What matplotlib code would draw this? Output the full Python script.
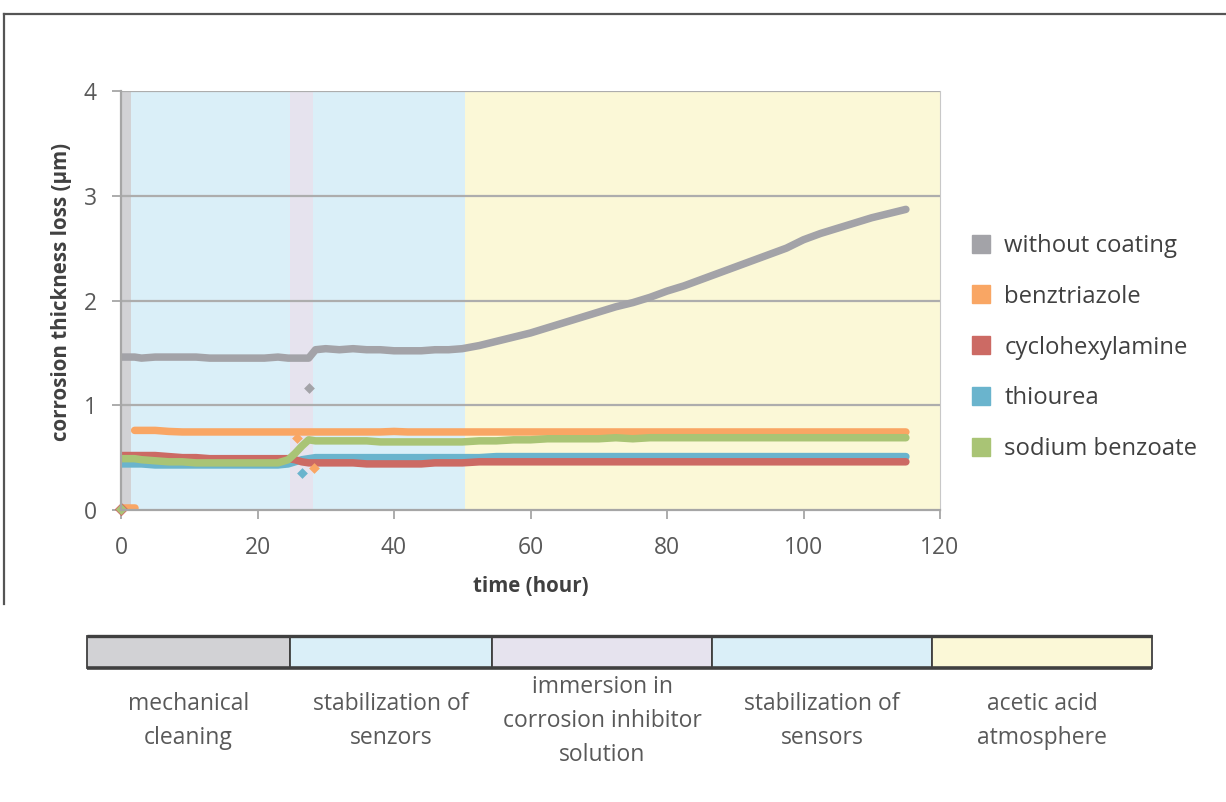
import matplotlib
matplotlib.use("Agg")
import matplotlib.pyplot as plt
from matplotlib.lines import Line2D
from matplotlib.patches import Rectangle
import numpy as np

plt.rcParams['font.family'] = ['Open Sans', 'DejaVu Sans']

# ---------------- data ----------------
time_h = [0, 2, 3, 5, 7, 9, 11, 13, 15, 17, 19, 21, 23, 24.5, 25.5, 26.5, 27.5,
          28.5, 30, 32, 34, 36, 38, 40, 42, 44, 46, 48, 50,
          52.5, 55, 57.5, 60, 62.5, 65, 67.5, 70, 72.5, 75, 77.5, 80, 82.5, 85,
          87.5, 90, 92.5, 95, 97.5, 100, 102.5, 105, 107.5, 110, 112.5, 115]

without_coating = [1.46, 1.46, 1.45, 1.46, 1.46, 1.46, 1.46, 1.45, 1.45, 1.45, 1.45, 1.45, 1.46, 1.45, 1.45, 1.45, 1.45,
                   1.53, 1.54, 1.53, 1.54, 1.53, 1.53, 1.52, 1.52, 1.52, 1.53, 1.53, 1.54,
                   1.57, 1.61, 1.65, 1.69, 1.74, 1.79, 1.84, 1.89, 1.94, 1.98, 2.03, 2.09, 2.14, 2.20,
                   2.26, 2.32, 2.38, 2.44, 2.50, 2.58, 2.64, 2.69, 2.74, 2.79, 2.83, 2.87]

benztriazole = [np.nan, 0.76, 0.76, 0.76, 0.75, 0.745, 0.745, 0.745, 0.745, 0.745, 0.745, 0.745, 0.745, 0.745, 0.745, 0.745, 0.745,
                0.745, 0.745, 0.745, 0.745, 0.745, 0.745, 0.75, 0.745, 0.745, 0.745, 0.745, 0.745,
                0.745, 0.745, 0.745, 0.745, 0.745, 0.745, 0.745, 0.745, 0.745, 0.745, 0.745, 0.745, 0.745, 0.745,
                0.745, 0.745, 0.745, 0.745, 0.745, 0.745, 0.745, 0.745, 0.745, 0.745, 0.745, 0.745]

cyclohexylamine = [0.52, 0.52, 0.52, 0.52, 0.51, 0.50, 0.50, 0.49, 0.49, 0.49, 0.49, 0.49, 0.49, 0.49, 0.48, 0.46, 0.45,
                   0.45, 0.45, 0.45, 0.45, 0.44, 0.44, 0.44, 0.44, 0.44, 0.45, 0.45, 0.45,
                   0.46, 0.46, 0.46, 0.46, 0.46, 0.46, 0.46, 0.46, 0.46, 0.46, 0.46, 0.46, 0.46, 0.46,
                   0.46, 0.46, 0.46, 0.46, 0.46, 0.46, 0.46, 0.46, 0.46, 0.46, 0.46, 0.46]

thiourea = [0.44, 0.44, 0.44, 0.43, 0.43, 0.43, 0.43, 0.43, 0.43, 0.43, 0.43, 0.43, 0.43, 0.44, 0.46, 0.48, 0.49,
            0.50, 0.50, 0.50, 0.50, 0.50, 0.50, 0.50, 0.50, 0.50, 0.50, 0.50, 0.50,
            0.50, 0.51, 0.51, 0.51, 0.51, 0.51, 0.51, 0.51, 0.51, 0.51, 0.51, 0.51, 0.51, 0.51,
            0.51, 0.51, 0.51, 0.51, 0.51, 0.51, 0.51, 0.51, 0.51, 0.51, 0.51, 0.51]

sodium_benzoate = [0.49, 0.49, 0.48, 0.47, 0.46, 0.46, 0.45, 0.45, 0.45, 0.45, 0.45, 0.45, 0.45, 0.48, 0.54, 0.61, 0.67,
                   0.66, 0.66, 0.66, 0.66, 0.66, 0.65, 0.65, 0.65, 0.65, 0.65, 0.65, 0.65,
                   0.66, 0.66, 0.67, 0.67, 0.68, 0.68, 0.68, 0.68, 0.69, 0.68, 0.69, 0.69, 0.69, 0.69,
                   0.69, 0.69, 0.69, 0.69, 0.69, 0.69, 0.69, 0.69, 0.69, 0.69, 0.69, 0.69]

# isolated points (start values and outliers)
benz_start_t = [0, 0.7, 1.4, 2.0]
benz_start_v = [0.02, 0.02, 0.02, 0.02]
benz_out_t = [25.8, 28.3]
benz_out_v = [0.69, 0.40]
sodium_start_t = [0]
sodium_start_v = [0.01]
thiourea_out_t = [26.5]
thiourea_out_v = [0.35]
without_out_t = [27.6]
without_out_v = [1.16]

series_names = ['without coating', 'benztriazole', 'cyclohexylamine', 'thiourea', 'sodium benzoate']
series_colors = ['#A3A3A8', '#F9A664', '#CC6A64', '#6AB4CD', '#A9C475']

phase_names = ['mechanical\ncleaning', 'stabilization of\nsenzors',
               'immersion in\ncorrosion inhibitor\nsolution', 'stabilization of\nsensors',
               'acetic acid\natmosphere']
phase_start = [0, 1.5, 24.8, 28.2, 50.4]
phase_end = [1.5, 24.8, 28.2, 50.4, 120]
phase_colors = ['#D2D2D5', '#DAEFF8', '#E6E3EE', '#DAEFF8', '#FBF8D7']

x_ticks = [0, 20, 40, 60, 80, 100, 120]
y_ticks = [0, 1, 2, 3, 4]

# ---------------- figure ----------------
W, H = 1226, 802
fig = plt.figure(figsize=(W / 100, H / 100), dpi=100)

def fx(px):
    return px / W

def fy(py):
    return 1 - py / H

ax = fig.add_axes([fx(121), fy(510), fx(940) - fx(121), fy(91) - fy(510)])
ax.set_xlim(0, 120)
ax.set_ylim(0, 4)

for s, e, c in zip(phase_start, phase_end, phase_colors):
    ax.axvspan(s, e, color=c, lw=0, zorder=0)

for y in y_ticks[1:]:
    ax.axhline(y, color='#ADADAD', lw=1.6, zorder=1)

all_series = [without_coating, benztriazole, cyclohexylamine, thiourea, sodium_benzoate]
order = [0, 1, 3, 2, 4]
for i in order:
    ax.plot(time_h, all_series[i], color=series_colors[i], lw=5.4,
            solid_capstyle='round', solid_joinstyle='round', zorder=3)

ax.plot(benz_start_t, benz_start_v, color=series_colors[1], lw=5.4,
        solid_capstyle='round', zorder=3)
ax.scatter(benz_out_t, benz_out_v, marker='D', s=30, color=series_colors[1], lw=0, zorder=4)
ax.scatter(thiourea_out_t, thiourea_out_v, marker='D', s=30, color=series_colors[3], lw=0, zorder=4)
ax.scatter(without_out_t, without_out_v, marker='D', s=30, color=series_colors[0], lw=0, zorder=4)
ax.scatter(sodium_start_t, sodium_start_v, marker='D', s=40, color=series_colors[4],
           edgecolors=series_colors[2], lw=0.6, zorder=5, clip_on=False)

for side in ['top', 'right']:
    ax.spines[side].set_visible(False)
for side in ['left', 'bottom']:
    ax.spines[side].set_color('#A6A6A6')
    ax.spines[side].set_linewidth(1.6)
    ax.spines[side].set_zorder(6)
ax.plot([120, 120], [0, 4], color='#C8C8C8', lw=0.8, zorder=2, clip_on=False)

ax.set_xticks(x_ticks)
ax.set_yticks(y_ticks)
ax.tick_params(axis='both', colors='#A6A6A6', length=6.5, width=1.3,
               labelcolor='#595959', labelsize=16.5)
ax.tick_params(axis='y', pad=11)
ax.tick_params(axis='x', pad=12)

ax.set_ylabel('corrosion thickness loss (µm)', fontsize=14.8, fontweight='bold',
              color='#404040', va='center')
ax.yaxis.set_label_coords(fx(62), fy(292), transform=fig.transFigure)
ax.set_xlabel('time (hour)', fontsize=14.8, fontweight='bold', color='#404040', va='center')
ax.xaxis.set_label_coords(fx(531), fy(587), transform=fig.transFigure)

# legend
handles = [Line2D([], [], marker='s', linestyle='none', markersize=13,
                  markerfacecolor=c, markeredgecolor=c) for c in series_colors]
leg = fig.legend(handles, series_names, loc='upper left',
                 bbox_to_anchor=(fx(969.5), fy(234)), frameon=False,
                 fontsize=17.2, labelspacing=1.12, handlelength=1.0,
                 handletextpad=0.45, borderpad=0, borderaxespad=0)
for t in leg.get_texts():
    t.set_color('#404040')

# phase bar
bar_widths = [203, 202, 220, 220, 220]
bar_left_px = 87
bar_edges = np.concatenate([[0], np.cumsum(bar_widths)])
bar = fig.add_axes([fx(bar_left_px), fy(668), fx(bar_left_px + bar_edges[-1]) - fx(bar_left_px),
                    fy(636) - fy(668)])
bar.set_xlim(0, bar_edges[-1])
bar.set_ylim(0, 1)
bar.axis('off')
for i, c in enumerate(phase_colors):
    bar.add_patch(Rectangle((bar_edges[i], 0), bar_widths[i], 1, facecolor=c,
                            edgecolor='#404040', lw=1.3, clip_on=False))
bar.plot([0, bar_edges[-1]], [1, 1], color='#404040', lw=2.4, clip_on=False,
         solid_capstyle='butt')
bar.plot([0, bar_edges[-1]], [0, 0], color='#404040', lw=2.6, clip_on=False,
         solid_capstyle='butt')

for i, name in enumerate(phase_names):
    cx = bar_left_px + (bar_edges[i] + bar_edges[i + 1]) / 2
    fig.text(fx(cx), fy(721), name, ha='center', va='center',
             fontsize=16.5, color='#595959', linespacing=1.55)

# outer frame
fig.add_artist(Line2D([fx(4), fx(4)], [fy(14), fy(604)], color='#555555', lw=1.6))
fig.add_artist(Line2D([fx(4), 1.0], [fy(14), fy(14)], color='#555555', lw=1.6))

fig.savefig('out.png', dpi=100)
